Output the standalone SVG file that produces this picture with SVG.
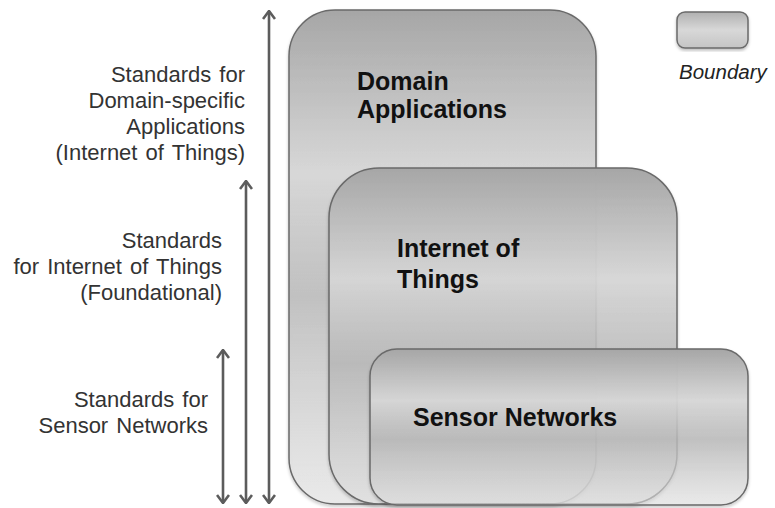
<svg xmlns="http://www.w3.org/2000/svg" width="775" height="508" viewBox="0 0 775 508">
<style>
.box{stroke:#6a6a6a;stroke-width:1.5;filter:url(#sh)}
.lbl{font-family:"Liberation Sans",Arial,sans-serif;font-size:22px;fill:#333;text-anchor:end;word-spacing:2px}
.big{font-family:"Liberation Sans",Arial,sans-serif;font-size:25px;font-weight:bold;fill:#111}
.arr{stroke:#5c5c5c;stroke-width:2.6;fill:none;marker-start:url(#ah);marker-end:url(#ah)}
</style>
<defs>
<linearGradient id="g" x1="0" y1="0" x2="0" y2="1">
<stop offset="0" stop-color="#a6a6a6" stop-opacity="1"/>
<stop offset="0.33" stop-color="#d7d7d7" stop-opacity="0.95"/>
<stop offset="0.58" stop-color="#bababa" stop-opacity="0.82"/>
<stop offset="1" stop-color="#e6e6e6" stop-opacity="0.55"/>
</linearGradient>
<linearGradient id="gl" x1="0" y1="0" x2="0" y2="1">
<stop offset="0" stop-color="#b0b0b0"/>
<stop offset="0.5" stop-color="#d8d8d8"/>
<stop offset="1" stop-color="#c4c4c4"/>
</linearGradient>
<filter id="sh" x="-5%" y="-5%" width="110%" height="115%">
<feDropShadow dx="0" dy="2" stdDeviation="1.5" flood-color="#000" flood-opacity="0.25"/>
</filter>
<marker id="ah" viewBox="0 0 10 14" refX="9" refY="7" markerWidth="10" markerHeight="14" markerUnits="userSpaceOnUse" orient="auto-start-reverse">
<path d="M1,1 L9,7 L1,13" fill="none" stroke="#5c5c5c" stroke-width="2.6"/>
</marker>
</defs>
<rect width="775" height="508" fill="#fff"/>
<g id="connectors">
<line class="arr" x1="269" y1="503" x2="269" y2="11"/>
<line class="arr" x1="246" y1="503" x2="246" y2="181"/>
<line class="arr" x1="223" y1="503" x2="223" y2="350"/>
</g>
<g id="domain">
<rect class="box" x="289" y="10" width="307" height="494" rx="46" fill="url(#g)"/>
<text class="big" x="357" y="90">Domain</text>
<text class="big" x="357" y="118">Applications</text>
</g>
<g id="iot">
<rect class="box" x="329" y="168" width="348" height="336" rx="50" fill="url(#g)"/>
<text class="big" x="397" y="257">Internet of</text>
<text class="big" x="397" y="288">Things</text>
</g>
<g id="sensor">
<rect class="box" x="370" y="349" width="378" height="156" rx="27" fill="url(#g)"/>
<text class="big" x="413" y="426">Sensor Networks</text>
</g>
<g id="legend">
<rect class="box" x="677" y="12" width="71" height="36" rx="8" fill="url(#gl)"/>
<text x="679" y="79" font-family="Liberation Sans, Arial, sans-serif" font-size="20.5" font-style="italic" fill="#222">Boundary</text>
</g>
<g id="labels">
<text class="lbl" x="245" y="82">Standards for</text>
<text class="lbl" x="245" y="108">Domain-specific</text>
<text class="lbl" x="245" y="134">Applications</text>
<text class="lbl" x="245" y="160">(Internet of Things)</text>
<text class="lbl" x="222" y="248">Standards</text>
<text class="lbl" x="222" y="274">for Internet of Things</text>
<text class="lbl" x="222" y="300">(Foundational)</text>
<text class="lbl" x="208" y="407">Standards for</text>
<text class="lbl" x="208" y="433">Sensor Networks</text>
</g>
</svg>
